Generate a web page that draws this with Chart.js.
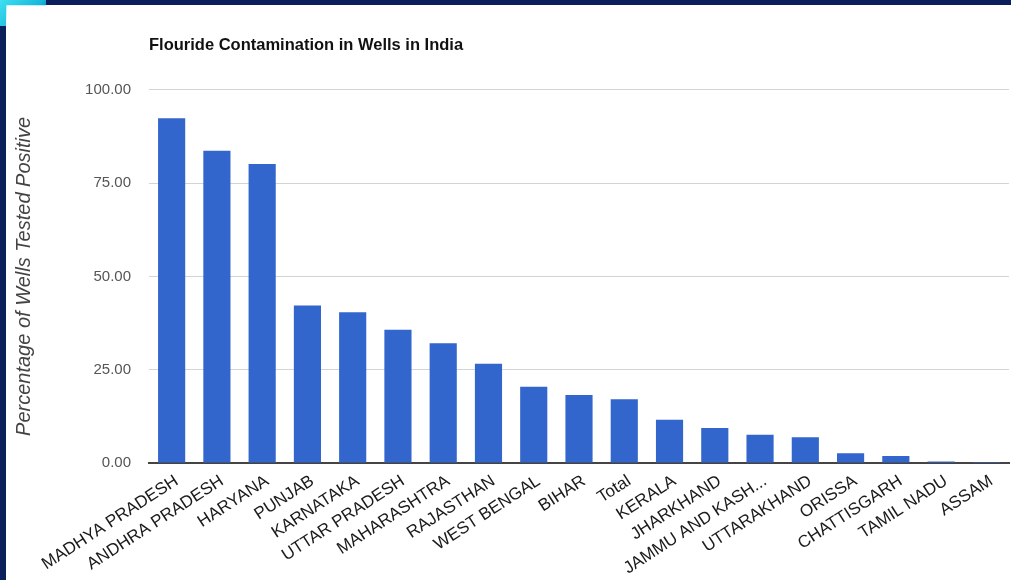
<!DOCTYPE html>
<html>
<head>
<meta charset="utf-8">
<script src="https://cdn.jsdelivr.net/npm/chart.js@4"></script>
<style>
    html, body { margin: 0; padding: 0; background: #ffffff; overflow: hidden; }
    #wrap { position: absolute; left: 0; top: 0; width: 1011px; height: 580px; }
    .frame { position: absolute; background: #0b1f5a; z-index: 2; }
    #frameTop { left: 0; top: 0; width: 1011px; height: 5px; }
    #frameLeft { left: 0; top: 0; width: 6px; height: 580px; }
    #corner { position: absolute; left: 0; top: 0; width: 46px; height: 26px; z-index: 3;
        background: linear-gradient(135deg, #3fe0f0 0%, #18b8dc 60%, #0b4f8f 100%);
        clip-path: polygon(0 0, 100% 0, 100% 20%, 14% 20%, 13% 100%, 0 100%); }
</style>
</head>
<body>
<div id="wrap"><canvas id="wellsChart"></canvas></div>
<div class="frame" id="frameTop"></div>
<div class="frame" id="frameLeft"></div>
<div id="corner"></div>
<script>
const states = [
    'MADHYA PRADESH', 'ANDHRA PRADESH', 'HARYANA', 'PUNJAB', 'KARNATAKA',
    'UTTAR PRADESH', 'MAHARASHTRA', 'RAJASTHAN', 'WEST BENGAL', 'BIHAR',
    'Total', 'KERALA', 'JHARKHAND', 'JAMMU AND KASH...', 'UTTARAKHAND',
    'ORISSA', 'CHATTISGARH', 'TAMIL NADU', 'ASSAM',
];
const positivePct = [
    92.4, 83.7, 80.1, 42.2, 40.4,
    35.7, 32.1, 26.6, 20.4, 18.2,
    17.1, 11.6, 9.4, 7.6, 6.9,
    2.6, 1.9, 0.4, 0.3,
];
const yMin = 0;
const yMax = 100;
const yStep = 25;

Chart.defaults.font.family = 'Arial, "Liberation Sans", sans-serif';

new Chart(document.getElementById('wellsChart'), {
    type: 'bar',
    data: {
        labels: states,
        datasets: [
            {
                label: 'Percentage of Wells Tested Positive',
                data: positivePct,
                backgroundColor: '#3366cc',
                borderWidth: 0,
                barPercentage: 0.6,
                categoryPercentage: 1,
            },
        ],
    },
    options: {
        responsive: true,
        maintainAspectRatio: false,
        animation: false,
        layout: {
            padding: { left: 0, right: 2, top: 0, bottom: 0 },
        },
        scales: {
            x: {
                grid: { display: false },
                border: { display: true, color: '#444444', width: 2 },
                ticks: {
                    color: '#1a1a1a',
                    font: { size: 17 },
                    minRotation: 33,
                    maxRotation: 33,
                    autoSkip: false,
                    labelOffset: 5,
                    padding: 0,
                },
                afterFit: (scale) => {
                    scale.height = 117;
                },
            },
            y: {
                min: yMin,
                max: yMax,
                border: { display: false },
                grid: { color: '#d4d4d4', lineWidth: 1, drawTicks: false },
                ticks: {
                    stepSize: yStep,
                    color: '#555555',
                    font: { size: 15 },
                    padding: 18,
                    callback: (value) => value.toFixed(2),
                },
                title: {
                    display: true,
                    text: 'Percentage of Wells Tested Positive',
                    color: '#444444',
                    font: { size: 20, style: 'italic' },
                    padding: { top: 12, bottom: 0 },
                },
                afterFit: (scale) => {
                    scale.width = 149;
                },
            },
        },
        plugins: {
            legend: { display: false },
            tooltip: { enabled: false },
            title: {
                display: true,
                fullSize: false,
                align: 'start',
                text: 'Flouride Contamination in Wells in India',
                color: '#111111',
                font: { size: 16.5, weight: 'bold' },
                padding: { top: 36, bottom: 34 },
            },
        },
    },
});
</script>
</body>
</html>
